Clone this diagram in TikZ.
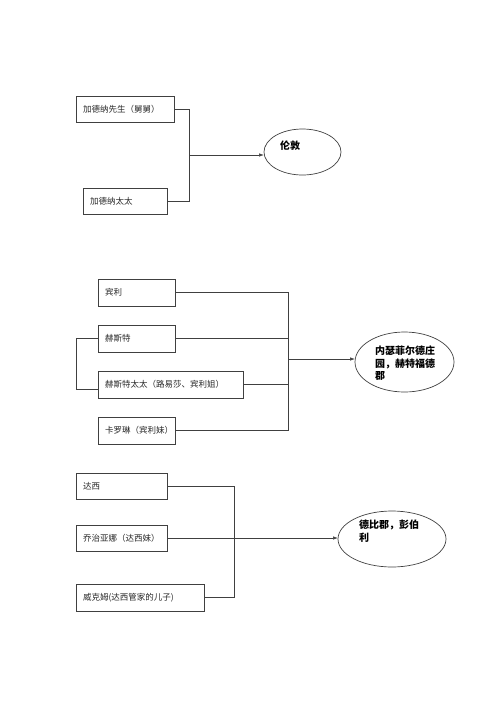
\documentclass[tikz,border=0pt]{standalone}
\usepackage{fontspec}
\newfontfamily\cjk{Noto Sans CJK SC}
\usetikzlibrary{arrows.meta,shapes.geometric}
\tikzset{
  line/.style={draw=black!75, line width=0.7pt},
  box/.style={line, rectangle, anchor=north west, inner xsep=7pt, inner ysep=0pt, outer sep=0pt,
    align=left, font=\cjk\fontsize{8.5}{10}\selectfont, text=black!85},
  oval/.style={line, ellipse, inner sep=0pt, outer sep=0pt},
  ovaltext/.style={anchor=north west, inner sep=0pt, align=left, font=\cjk\bfseries\fontsize{10}{12.5}\selectfont},
  arr/.style={line, -{Latex[length=5pt,width=3.5pt]}}
}
\begin{document}
\begin{tikzpicture}[x=1pt,y=-1pt]
\useasboundingbox (0,0) rectangle (500,707);
% group 1
\node[box, text width=84pt, minimum height=26pt] (b1) at (76,96) {加德纳先生（舅舅）};
\node[box, text width=70pt, minimum height=26pt] (b2) at (83,188) {加德纳太太};
\node[oval, minimum width=77pt, minimum height=46pt] (e1) at (302.5,152) {};
\node[ovaltext, anchor=west] (t1) at (280,146) {伦敦};
\coordinate (j1) at (189,155);
\draw[line] (b1.east) -| (j1);
\draw[line] (b2.east) -| (j1);
\draw[arr] (j1) -- (j1 -| e1.west);
% group 2
\node[box, text width=63pt, minimum height=27pt] (c1) at (98,279) {宾利};
\node[box, text width=63pt, minimum height=27pt] (c2) at (98,325) {赫斯特};
\node[box, text width=131pt, minimum height=27pt] (c3) at (98,371) {赫斯特太太（路易莎、宾利姐）};
\node[box, text width=63pt, minimum height=27pt] (c4) at (98,417) {卡罗琳（宾利妹）};
\node[oval, minimum width=99pt, minimum height=60pt] (e2) at (404.5,362) {};
\node[ovaltext] (t2) at (375,346) {内瑟菲尔德庄\\园，赫特福德\\郡};
\coordinate (j2) at (288,359);
\coordinate (c3l) at (98,389);
\draw[line] (c1.east) -| (j2);
\draw[line] (c4.east) -| (j2);
\draw[line] (c2.east) -- (c2.east -| j2);
\draw[line] (c3.east) -- (c3.east -| j2);
\draw[line] (c2.west) -- ++(-22,0) |- (c3l);
\draw[arr] (j2) -- (j2 -| e2.west);
% group 3
\node[box, text width=77pt, minimum height=26pt] (d1) at (76,473) {达西};
\node[box, text width=77pt, minimum height=26pt] (d2) at (76,525) {乔治亚娜（达西妹）};
\node[box, text width=114pt, minimum height=27pt] (d3) at (76,584) {威克姆(达西管家的儿子)};
\node[oval, minimum width=108pt, minimum height=56pt] (e3) at (392,539) {};
\node[ovaltext] (t3) at (359,520) {德比郡，彭伯\\利};
\coordinate (j3) at (234,539);
\draw[line] (d1.east) -| (j3);
\draw[line] (d3.east) -| (j3);
\draw[arr] (d2.east) -- (d2.east -| e3.west);
\end{tikzpicture}
\end{document}
